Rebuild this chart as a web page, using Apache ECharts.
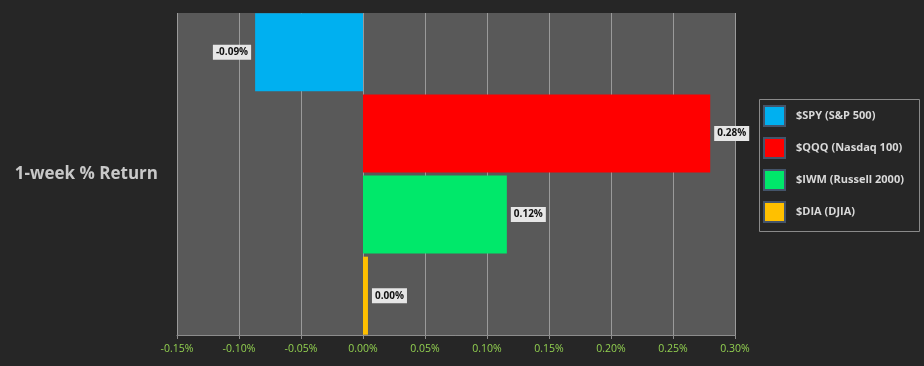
<!DOCTYPE html>
<html><head><meta charset="utf-8">
<script src="https://cdn.jsdelivr.net/npm/echarts@6/dist/echarts.min.js"></script>
<style>html,body{margin:0;padding:0;background:#262626;}#c{width:924px;height:366px;}</style>
</head><body><div id="c"></div>
<script>
const categories = ['1-week % Return'];
const seriesNames = ['$SPY (S&P 500)', '$QQQ (Nasdaq 100)', '$IWM (Russell 2000)', '$DIA (DJIA)'];
const seriesValues = [-0.087, 0.280, 0.116, 0.004];
const seriesColors = ['#00b0f0', '#ff0000', '#00e86a', '#ffc000'];
const xTicks = [-0.15, -0.10, -0.05, 0.00, 0.05, 0.10, 0.15, 0.20, 0.25, 0.30];

const chart = echarts.init(document.getElementById('c'));
chart.setOption({
  backgroundColor: '#262626',
  animation: false,
  grid: {left: 177, right: 189, top: 13, bottom: 31, show: true, backgroundColor: '#595959', borderWidth: 0},
  legend: {
    orient: 'vertical', left: 763, top: 105, itemWidth: 21, itemHeight: 20, itemGap: 10, icon: 'rect',
    data: seriesNames.map(n => ({name: n, itemStyle: {borderColor: '#44546a', borderWidth: 2}})),
    textStyle: {color: '#d9d9d9', fontSize: 11, fontWeight: 'bold', fontFamily: 'Open Sans', padding: [0, 0, 0, 6]},
    borderWidth: 0, padding: 0
  },
  graphic: [{type: 'rect', left: 757, top: 97, shape: {width: 160, height: 132}, style: {fill: 'none', stroke: '#8a8a8a', lineWidth: 1}}],
  xAxis: {
    type: 'value', min: xTicks[0], max: xTicks[xTicks.length - 1], interval: 0.05,
    axisLine: {show: true, lineStyle: {color: '#8c8c8c'}},
    axisTick: {show: true, length: 4, lineStyle: {color: '#8c8c8c'}},
    splitLine: {show: true, lineStyle: {color: '#9a9a9a', width: 1}},
    axisLabel: {color: '#92d050', fontSize: 10.5, fontFamily: 'Open Sans', margin: 9, formatter: v => v.toFixed(2) + '%'}
  },
  yAxis: {
    type: 'category', data: categories, inverse: true,
    axisLine: {show: false}, axisTick: {show: false},
    axisLabel: {color: '#c8c8c8', fontSize: 17, fontWeight: 'bold', fontFamily: 'Open Sans', margin: 19}
  },
  series: seriesNames.map((n, i) => ({
    name: n, type: 'bar', data: [seriesValues[i]], barWidth: 78, barGap: '4%',
    itemStyle: {color: seriesColors[i]},
    label: {
      show: true, position: seriesValues[i] < 0 ? 'left' : 'right', distance: 4,
      formatter: p => p.value.toFixed(2) + '%',
      color: '#111', fontSize: 10, fontWeight: 'bold', fontFamily: 'Open Sans',
      backgroundColor: '#e6e6e6', padding: [3, 3, 2, 3]
    }
  }))
});
</script></body></html>
